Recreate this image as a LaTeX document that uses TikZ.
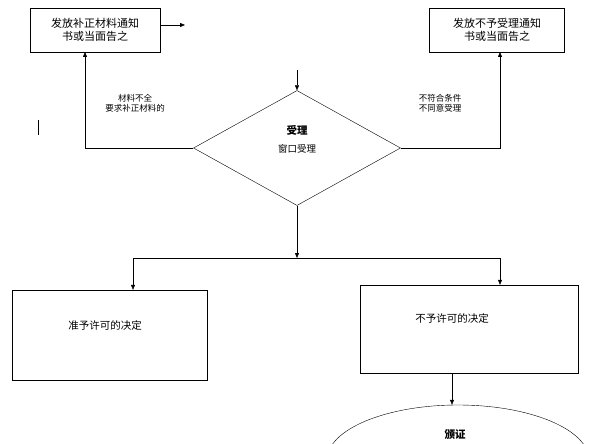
\documentclass[tikz,border=0pt]{standalone}
\usepackage{fontspec}
\setmainfont{Noto Sans CJK SC}
\usetikzlibrary{shapes.geometric,arrows.meta,positioning}
\tikzset{
  box/.style={draw, thin, align=center, font=\fontsize{11}{13.5}\selectfont},
  lbl/.style={align=center, font=\fontsize{8.5}{10}\selectfont},
  line/.style={draw, -{Triangle[length=5pt,width=4pt]}}
}
\begin{document}
\begin{tikzpicture}[x=1pt,y=-1pt]
\useasboundingbox (0,0) rectangle (600,444);
\clip (0,0) rectangle (600,444);
% top notices
\node[box, minimum width=130, minimum height=44] (buzheng) at (95,30) {发放补正材料通知\\书或当面告之};
\node[box, minimum width=135, minimum height=44] (buyu) at (497,30) {发放不予受理通知\\书或当面告之};
\coordinate (out) at (185,25);
\draw[line] (buzheng.east |- out) -- (out);
% acceptance
\node[draw, thin, diamond, aspect=1.8, minimum width=207, minimum height=115, inner sep=0] (shouli) at (297,148) {};
\node[font=\fontsize{10.5}{12}\selectfont\bfseries] (t1) at (297,130) {受理};
\node[font=\fontsize{9.5}{11}\selectfont] (t2) at (297,149) {窗口受理};
\coordinate (in) at (297,70);
\draw[line] (in) -- (shouli.north);
\draw[line] (shouli.west) -| (85,52);
\draw[line] (shouli.east) -| (500,52);
\node[lbl] (quan) at (135,103) {材料不全\\要求补正材料的};
\node[lbl] (bufu) at (440,103) {不符合条件\\不同意受理};
\draw (38,120) -- (38,135);
% decisions
\coordinate (fork) at (297,258);
\draw[line] (shouli.south) -- (fork);
\node[box, minimum width=195, minimum height=90] (zhun) at (110,335) {};
\node[font=\fontsize{10.5}{12}\selectfont] (zt) at (105,325) {准予许可的决定};
\node[box, minimum width=218, minimum height=88] (bu) at (469,329) {};
\node[font=\fontsize{10.5}{12}\selectfont] (bt) at (452,318) {不予许可的决定};
\draw (133,258) -- (500,258);
\draw[line] (133,258) -- (zhun.north -| 133,0);
\draw[line] (500,258) -- (bu.north -| 500,0);
% certificate
\node[draw, thin, ellipse, minimum width=262, minimum height=110] (banzheng) at (458,460) {};
\node[font=\fontsize{10.5}{12}\selectfont\bfseries] (bz) at (455,435) {颁证};
\draw[line] (bt |- bu.south) -- (bt |- banzheng.north);
\end{tikzpicture}
\end{document}
